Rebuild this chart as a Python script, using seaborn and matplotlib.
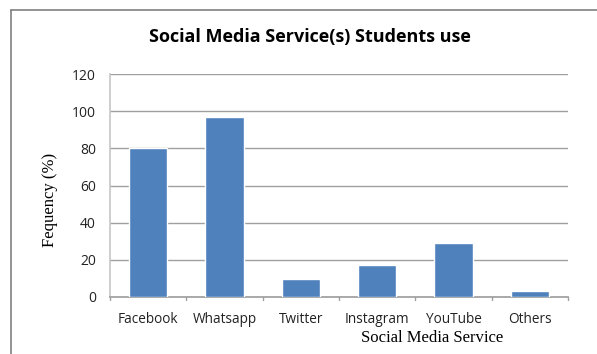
import matplotlib
matplotlib.use("Agg")
import matplotlib.pyplot as plt
import seaborn as sns
import pandas as pd
from matplotlib.lines import Line2D

categories = ["Facebook", "Whatsapp", "Twitter", "Instagram", "YouTube", "Others"]
values = [80, 97, 9.5, 17, 29, 3]
yticks = [0, 20, 40, 60, 80, 100, 120]

df = pd.DataFrame({"service": categories, "freq": values})

sns.set_theme(style="white")
plt.rcParams["font.family"] = ["Open Sans", "DejaVu Sans"]

W, H = 597, 354
fig = plt.figure(figsize=(W / 100, H / 100), dpi=100)
ax = fig.add_axes([110 / W, 1 - 297 / H, (568 - 110) / W, (297 - 74) / H])

sns.barplot(data=df, x="service", y="freq", color="#4F81BD", width=0.5,
            saturation=1, ax=ax, zorder=3)

ax.set_ylim(0, 120)
ax.set_xlim(-0.5, len(categories) - 0.5)
ax.set_yticks(yticks)
ax.set_yticklabels([str(t) for t in yticks], fontsize=10, color="#222222")
ax.tick_params(axis="x", labelsize=9.8, labelcolor="#222222", length=0, pad=11)
ax.tick_params(axis="y", length=0, pad=10)
for i in range(len(categories) + 1):
    ax.plot([i - 0.5, i - 0.5], [0, -1.8], color="#A0A0A0", lw=1, clip_on=False)
ax.yaxis.grid(True, color="#A0A0A0", lw=1, zorder=0)
ax.set_axisbelow(True)
for s in ["top", "right"]:
    ax.spines[s].set_visible(False)
ax.spines["left"].set_color("#C8C8C8")
ax.spines["bottom"].set_color("#A0A0A0")
ax.set_xlabel("")
ax.set_ylabel("")

fig.text(310 / W, 1 - 37 / H, "Social Media Service(s) Students use", ha="center",
         va="center", fontsize=13, fontweight="bold", color="black")
fig.text(50 / W, 1 - 200 / H, "Fequency (%)", rotation=90, ha="center", va="center",
         fontsize=12, family=["Liberation Serif"], color="black")
fig.text(432 / W, 1 - 338 / H, "Social Media Service", ha="center", va="center",
         fontsize=12, family=["Liberation Serif"], color="black")

fig.add_artist(Line2D([11 / W, 11 / W], [0, 1 - 10 / H], color="#808080", lw=1.2))
fig.add_artist(Line2D([11 / W, 1], [1 - 10 / H, 1 - 10 / H], color="#808080", lw=1.2))

fig.savefig("out.png", dpi=100)
